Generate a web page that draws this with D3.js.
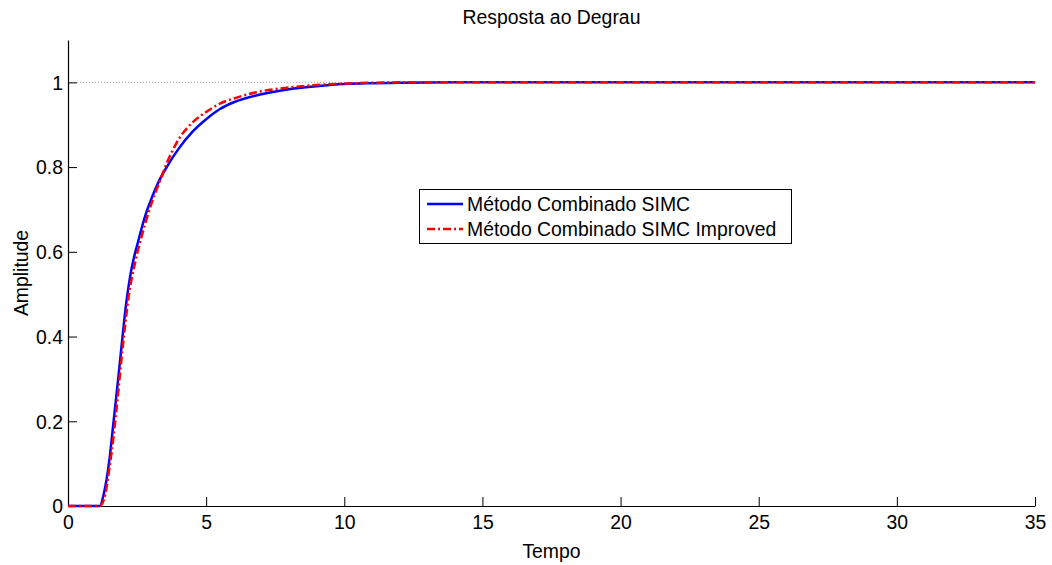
<!DOCTYPE html>
<html>
<head>
<meta charset="utf-8">
<script src="https://cdn.jsdelivr.net/npm/d3@7"></script>
<style>
  body { margin: 0; background: #fff; }
  svg { display: block; }
  text { font-family: "Liberation Sans", Arial, Helvetica, sans-serif; fill: #000; }
</style>
</head>
<body>
<svg id="chart" width="1052" height="565"></svg>
<script>
// ---- data ----
const title = "Resposta ao Degrau";
const xLabel = "Tempo";
const yLabel = "Amplitude";
const seriesNames = ["Método Combinado SIMC", "Método Combinado SIMC Improved"];
const time =         [0, 1.15, 1.3,   1.5,  1.65,  1.8,   1.95,  2.1,   2.2,   2.3,   2.4,  2.5,   2.65,  2.8,   3.0,   3.3,   3.6,   4.0,   4.5,   5.0,   5.5,   6.0,   7.0,   8.0,   9.0,   10.0,  11.0,  12.0,  14.0, 35.0];
const simc =         [0, 0,    0.03,  0.11, 0.20,  0.29,  0.385, 0.475, 0.522, 0.56,  0.59, 0.615, 0.652, 0.686, 0.722, 0.768, 0.803, 0.843, 0.883, 0.913, 0.937, 0.953, 0.972, 0.984, 0.991, 0.996, 0.998, 0.999, 1.0,  1.0];
const simcImproved = [0, 0,    0.015, 0.09, 0.165, 0.258, 0.356, 0.445, 0.497, 0.535, 0.566, 0.595, 0.633, 0.668, 0.71,  0.763, 0.813, 0.865, 0.905, 0.930, 0.950, 0.962, 0.979, 0.988, 0.994, 0.997, 0.999, 1.0,   1.0,  1.0];
const xTicks = [0, 5, 10, 15, 20, 25, 30, 35];
const yTicks = [0, 0.2, 0.4, 0.6, 0.8, 1];
const steadyState = 1;

// ---- layout ----
const svg = d3.select("#chart");
const mLeft = 68, mRight = 1035, mTop = 40, mBottom = 506;
const fs = 19.4;

const x = d3.scaleLinear().domain([0, 35]).range([mLeft, mRight]);
const y = d3.scaleLinear().domain([0, 1.1]).range([mBottom, mTop]);

// steady-state dotted line
svg.append("line")
  .attr("x1", x(0)).attr("x2", x(35))
  .attr("y1", y(steadyState)).attr("y2", y(steadyState))
  .attr("stroke", "#a8a8b8").attr("stroke-width", 1)
  .attr("stroke-dasharray", "1,2");

// axes
const xAxis = d3.axisBottom(x).tickValues(xTicks).tickSizeInner(-9).tickSizeOuter(0).tickPadding(14).tickFormat(d3.format("d"));
const yAxis = d3.axisLeft(y).tickValues(yTicks).tickSizeInner(-9).tickSizeOuter(0).tickPadding(14).tickFormat(d => d === 0 || d === 1 ? String(d) : d3.format(".1f")(d));

const gx = svg.append("g").attr("transform", `translate(0,${mBottom})`).call(xAxis);
const gy = svg.append("g").attr("transform", `translate(${mLeft},0)`).call(yAxis);
[gx, gy].forEach(g => {
  g.select(".domain").attr("stroke", "#000").attr("stroke-width", 1.2);
  g.selectAll(".tick line").attr("stroke", "#000").attr("stroke-width", 1);
  g.selectAll("text").style("font-size", fs + "px").style("font-family", '"Liberation Sans", Arial, sans-serif').attr("fill", "#000");
});
gx.selectAll(".tick text").attr("dy", "0.71em").attr("y", 9);
gy.selectAll(".tick text").attr("x", -5).attr("dy", "0.35em");

// lines
const lineGen = vals => d3.line()
  .x((d, i) => x(time[i]))
  .y(d => y(d))
  .curve(d3.curveMonotoneX)(vals);

svg.append("path").attr("d", lineGen(simc))
  .attr("fill", "none").attr("stroke", "#0000ff").attr("stroke-width", 2.5)
  .attr("stroke-linejoin", "round");
svg.append("path").attr("d", lineGen(simcImproved))
  .attr("fill", "none").attr("stroke", "#ff0000").attr("stroke-width", 2.5)
  .attr("stroke-dasharray", "8,3,2,3");

// title & labels
svg.append("text").attr("x", (mLeft + mRight) / 2).attr("y", 24).attr("text-anchor", "middle")
  .style("font-size", fs + "px").text(title);
svg.append("text").attr("x", (mLeft + mRight) / 2).attr("y", 558).attr("text-anchor", "middle")
  .style("font-size", fs + "px").text(xLabel);
svg.append("text").attr("transform", `translate(28,${(mTop + mBottom) / 2}) rotate(-90)`).attr("text-anchor", "middle")
  .style("font-size", fs + "px").text(yLabel);

// legend
const lg = svg.append("g");
lg.append("rect").attr("x", 419.5).attr("y", 189.5).attr("width", 372).attr("height", 54)
  .attr("fill", "#fff").attr("stroke", "#000").attr("stroke-width", 1);
const rowsY = [204, 229];
const styles = [{c: "#0000ff", dash: null}, {c: "#ff0000", dash: "8,3,2,3"}];
seriesNames.forEach((n, i) => {
  const l = lg.append("line").attr("x1", 427).attr("x2", 463).attr("y1", rowsY[i]).attr("y2", rowsY[i])
    .attr("stroke", styles[i].c).attr("stroke-width", 2.5);
  if (styles[i].dash) l.attr("stroke-dasharray", styles[i].dash);
  lg.append("text").attr("x", 467).attr("y", rowsY[i]).attr("dy", "0.35em")
    .style("font-size", fs + "px").text(n);
});
</script>
</body>
</html>
